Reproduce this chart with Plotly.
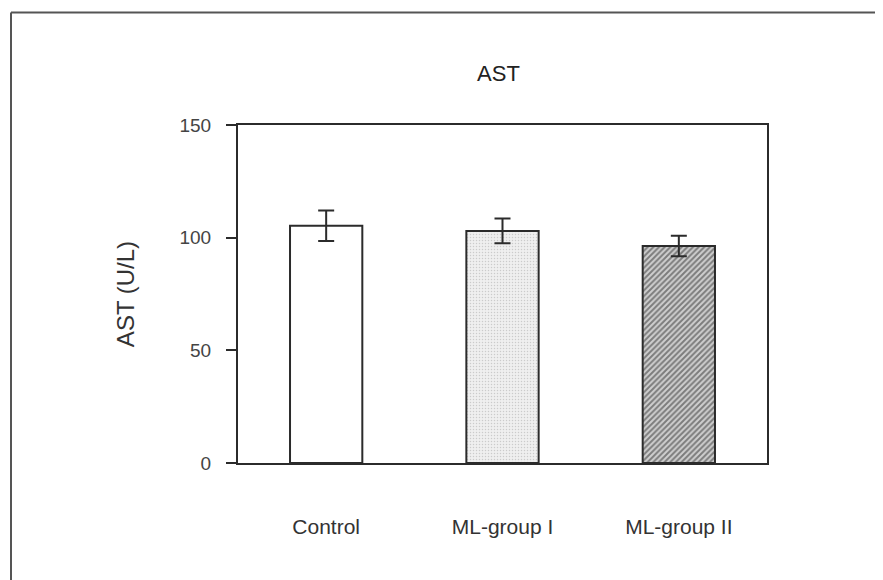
import plotly.graph_objects as go

categories = ["Control", "ML-group I", "ML-group II"]
means = [105.3, 103.0, 96.3]
errors = [6.8, 5.5, 4.6]
y_ticks = [0, 50, 100, 150]

FONT = "Liberation Sans, Arial, Helvetica, sans-serif"
LINE = "#2b2b2b"

# page body has an 8px margin, so positions are offset by 8px
L, T, PW, PH = 230, 117, 529, 338

fig = go.Figure()

styles = [
    dict(color="white", pattern=None),
    dict(color="#ececec", pattern=dict(shape=".", size=3, solidity=0.2, fgcolor="#a8a8a8", bgcolor="#efefef")),
    dict(color="#c8c8c8", pattern=dict(shape="/", size=4, solidity=0.5, fgcolor="#2a2a2a", bgcolor="#cfcfcf")),
]

for i, (c, m, e) in enumerate(zip(categories, means, errors)):
    marker = dict(color=styles[i]["color"], line=dict(color=LINE, width=2))
    if styles[i]["pattern"] is not None:
        marker["pattern"] = styles[i]["pattern"]
    fig.add_trace(go.Bar(
        x=[c], y=[m],
        width=0.41,
        marker=marker,
        error_y=dict(type="data", array=[e], visible=True, color=LINE, thickness=2, width=8),
        showlegend=False,
    ))

fig.update_layout(
    width=883, height=580,
    margin=dict(l=L, r=883 - L - PW, t=T, b=580 - T - PH),
    paper_bgcolor="white", plot_bgcolor="white",
    font=dict(family=FONT, size=19, color="#333333"),
    title=dict(text="AST", x=(L + PW / 2 - 4) / 883, xanchor="center", y=1 - 65 / 580, yanchor="middle",
               font=dict(family=FONT, size=22, color="#222222")),
    bargap=0.59,
)

fig.update_xaxes(
    showline=True, linecolor=LINE, linewidth=2, mirror=True,
    ticks="", showgrid=False, zeroline=False,
    range=[-0.5, 2.5],
    ticklabelstandoff=44,
    tickfont=dict(family=FONT, size=21, color="#333333"),
)
fig.update_yaxes(
    showline=True, linecolor=LINE, linewidth=2, mirror=True,
    ticks="outside", ticklen=10, tickwidth=2, tickcolor=LINE,
    range=[0, 150], tickvals=y_ticks, ticktext=[str(v) for v in y_ticks],
    showgrid=False, zeroline=False,
    ticklabelstandoff=11,
    tickfont=dict(family=FONT, size=19, color="#444444"),
    title=dict(text="AST (U/L)", standoff=38, font=dict(family=FONT, size=24, color="#333333")),
)

# Outer frame lines (top and left) of the figure box
fx = 3
fy = 4.5
fig.add_shape(type="line", xref="paper", yref="paper",
              x0=-(L - fx) / PW, x1=(883 - L) / PW,
              y0=1 + (T - fy) / PH, y1=1 + (T - fy) / PH,
              line=dict(color="#555555", width=2))
fig.add_shape(type="line", xref="paper", yref="paper",
              x0=-(L - fx) / PW, x1=-(L - fx) / PW,
              y0=1 + (T - fy) / PH, y1=-(580 - T - PH) / PH,
              line=dict(color="#555555", width=2))

fig.write_html("out.html")
